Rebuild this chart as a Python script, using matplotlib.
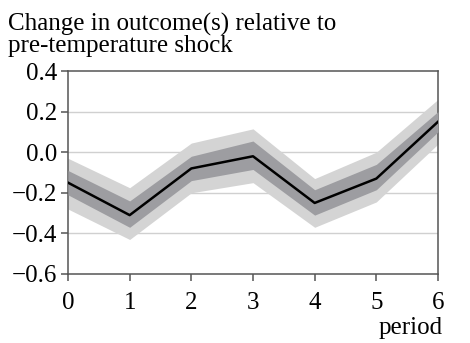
import numpy as np
import matplotlib.pyplot as plt

periods = [0, 1, 2, 3, 4, 5, 6]
estimate = [-0.15, -0.31, -0.08, -0.02, -0.25, -0.13, 0.15]
inner_lo = [-0.21, -0.37, -0.14, -0.085, -0.31, -0.185, 0.10]
inner_hi = [-0.09, -0.24, -0.02, 0.055, -0.185, -0.06, 0.20]
outer_lo = [-0.28, -0.43, -0.20, -0.15, -0.37, -0.245, 0.04]
outer_hi = [-0.03, -0.175, 0.045, 0.115, -0.13, 0.0, 0.26]
yticks = [-0.6, -0.4, -0.2, 0.0, 0.2, 0.4]

plt.rcParams['font.family'] = ['Liberation Serif', 'DejaVu Serif']
plt.rcParams['font.size'] = 18

fig = plt.figure(figsize=(4.7, 3.43), dpi=100)
ax = fig.add_axes([68 / 470, 1 - 274 / 343, 370 / 470, 203 / 343])

ax.fill_between(periods, outer_lo, outer_hi, color='#d4d4d4', lw=0, zorder=2)
ax.fill_between(periods, inner_lo, inner_hi, color='#9d9da1', lw=0, zorder=3)
ax.plot(periods, estimate, color='black', lw=1.8, zorder=4)

ax.set_xlim(0, 6)
ax.set_ylim(-0.6, 0.4)
ax.set_xticks(periods)
ax.set_yticks(yticks)
ax.set_yticklabels(['\u22120.6', '\u22120.4', '\u22120.2', '0.0', '0.2', '0.4'])
for y in yticks[1:-1]:
    ax.axhline(y, color='#d0d0d0', lw=1, zorder=1)

for s in ax.spines.values():
    s.set_color('#555555')
    s.set_linewidth(1.1)
ax.tick_params(colors='#555555', labelcolor='black', length=5, width=1.1)
ax.tick_params(axis='x', pad=8)
ax.tick_params(axis='y', pad=3)

fig.text(8 / 470, 1 - 35 / 343,
         'Change in outcome(s) relative to\npre-temperature shock',
         ha='left', va='center', linespacing=0.9)
fig.text(443 / 470, 1 - 328 / 343, 'period', ha='right', va='center')

fig.savefig('out.png', dpi=100)
